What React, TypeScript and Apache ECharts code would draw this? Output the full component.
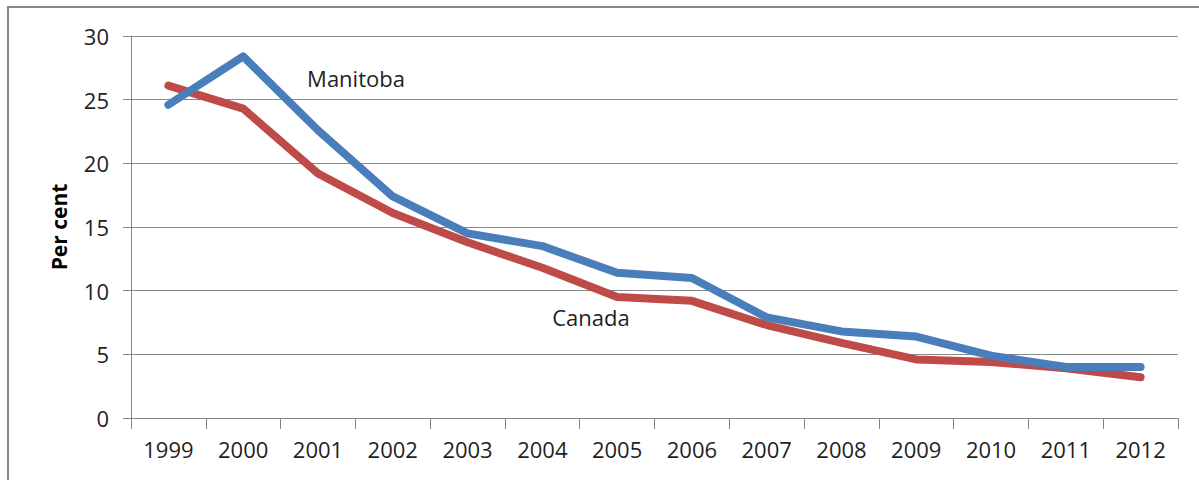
import React, { useEffect, useRef } from "react";
import * as echarts from "echarts";

const years = ["1999", "2000", "2001", "2002", "2003", "2004", "2005", "2006", "2007", "2008", "2009", "2010", "2011", "2012"];
const manitoba = [24.6, 28.4, 22.6, 17.4, 14.5, 13.5, 11.4, 11.0, 7.9, 6.8, 6.4, 4.9, 4.0, 4.0];
const canada = [26.1, 24.3, 19.2, 16.1, 13.8, 11.8, 9.5, 9.2, 7.3, 5.9, 4.6, 4.4, 3.9, 3.2];
const yTicks = { min: 0, max: 30, interval: 5 };

const FONT = "'Open Sans', 'Noto Sans', sans-serif";

export default function App() {
  const ref = useRef<HTMLDivElement>(null);
  useEffect(() => {
    if (!ref.current) return;
    const chart = echarts.init(ref.current, null, { renderer: "svg" });
    chart.setOption({
      animation: false,
      backgroundColor: "#ffffff",
      grid: { left: 131, top: 36, right: 21, bottom: 62, containLabel: false },
      xAxis: {
        type: "category",
        data: years,
        boundaryGap: true,
        axisLine: { show: true, lineStyle: { color: "#868686", width: 1 } },
        axisTick: { show: true, alignWithLabel: false, length: 11, lineStyle: { color: "#868686" } },
        axisLabel: { color: "#1f1f1f", fontFamily: FONT, fontSize: 22, margin: 20 },
        splitLine: { show: false },
      },
      yAxis: {
        type: "value",
        min: yTicks.min,
        max: yTicks.max,
        interval: yTicks.interval,
        name: "Per cent",
        nameLocation: "middle",
        nameGap: 62,
        nameRotate: 90,
        nameTextStyle: { color: "#000000", fontFamily: FONT, fontSize: 21, fontWeight: "bold" },
        axisLine: { show: true, lineStyle: { color: "#868686", width: 1 } },
        axisTick: { show: true, inside: false, length: 8, lineStyle: { color: "#868686" } },
        axisLabel: { color: "#1f1f1f", fontFamily: FONT, fontSize: 22, margin: 22 },
        splitLine: { show: true, lineStyle: { color: "#8a8a8a", width: 1 } },
      },
      series: [
        {
          name: "Canada",
          type: "line",
          data: canada,
          symbol: "none",
          lineStyle: { color: "#BE4B48", width: 8, cap: "round", join: "round" },
          z: 2,
        },
        {
          name: "Manitoba",
          type: "line",
          data: manitoba,
          symbol: "none",
          lineStyle: { color: "#4A7EBB", width: 8, cap: "round", join: "round" },
          z: 3,
        },
      ],
      graphic: [
        {
          type: "rect",
          shape: { x: 8, y: 7, width: 1300, height: 600 },
          style: { fill: "none", stroke: "#878787", lineWidth: 2 },
          silent: true,
          z: 10,
        },
        {
          type: "text",
          x: 356,
          y: 78,
          style: {
            text: "Manitoba",
            fill: "#1f1f1f",
            font: `22px ${FONT}`,
            textAlign: "center",
            textVerticalAlign: "middle",
          },
          z: 10,
        },
        {
          type: "text",
          x: 591,
          y: 317,
          style: {
            text: "Canada",
            fill: "#1f1f1f",
            font: `22px ${FONT}`,
            textAlign: "center",
            textVerticalAlign: "middle",
          },
          z: 10,
        },
      ],
    });
    return () => chart.dispose();
  }, []);
  return (
    <div
      ref={ref}
      style={{ position: "fixed", left: 0, top: 0, width: 1199, height: 480, background: "#fff" }}
    />
  );
}
